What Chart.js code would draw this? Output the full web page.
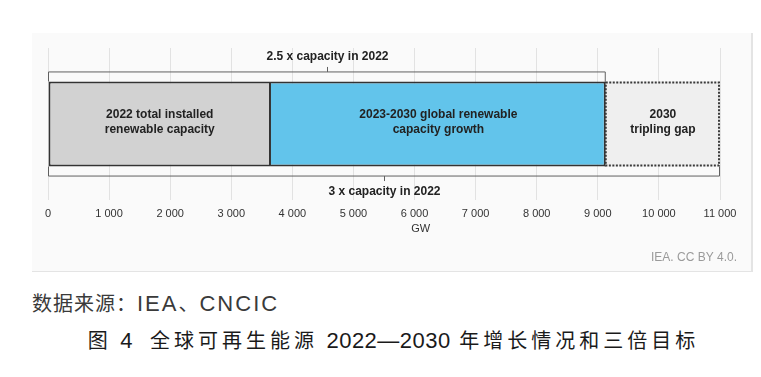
<!DOCTYPE html>
<html>
<head>
<meta charset="utf-8">
<script src="https://cdn.jsdelivr.net/npm/chart.js@4.4.0/dist/chart.umd.min.js"></script>
<style>
  body { margin: 0; background: #ffffff; width: 761px; height: 377px; position: relative; overflow: hidden; }
  #panel { position: absolute; left: 32px; top: 33px; width: 719px; height: 238px; background: #fafafa;
           border-right: 2px solid #e4e4e4; border-bottom: 1px solid #e4e4e4; }
  #panel canvas { position: absolute; left: 0; top: 0; }
  .cap { position: absolute; font-family: "Noto Sans CJK SC", sans-serif; white-space: nowrap; }
  .cap .lat { font-family: "Liberation Sans", Arial, sans-serif; font-size: 22px; letter-spacing: 0; }
  #source { left: 32px; top: 288px; font-size: 20px; color: #3a3a3a; letter-spacing: 1px; }
  #source .lat { letter-spacing: 2px; }
  #title { left: 0; width: 787px; text-align: center; top: 325px; font-size: 20px; color: #1a1a1a; letter-spacing: 4px; }
  #title .lat { letter-spacing: 0.5px; }
</style>
</head>
<body>
<div id="panel"><canvas id="capChart" width="719" height="238"></canvas></div>
<div class="cap" id="source">数据来源：<span class="lat">IEA</span>、<span class="lat">CNCIC</span></div>
<div class="cap" id="title">图 <span class="lat">4</span>&nbsp; 全球可再生能源 <span class="lat">2022—2030</span> 年增长情况和三倍目标</div>

<script>
// Data (GW)
const categories = ['Global renewable capacity'];
const segmentNames = ['2022 installed', '2023-2030 growth', '2030 tripling gap'];
const segmentLabels = [
  ['2022 total installed', 'renewable capacity'],
  ['2023-2030 global renewable', 'capacity growth'],
  ['2030', 'tripling gap']
];
const capacityGW = [3650, 5480, 1870];
const segmentColors = ['#d2d2d2', '#62c4eb', '#efefef'];
const axisMin = 0;
const axisMax = 11000;
const axisStep = 1000;
const bracketLabels = ['2.5 x capacity in 2022', '3 x capacity in 2022'];
const axisTitle = 'GW';
const creditText = 'IEA. CC BY 4.0.';

const fmt = v => String(v).replace(/\B(?=(\d{3})+(?!\d))/g, ' ');
const boldFont = 'bold 12px "Liberation Sans", Arial, sans-serif';

// labels, brackets and the dotted gap outline
const annotations = {
  id: 'annotations',
  afterDatasetsDraw(chart) {
    const ctx = chart.ctx;
    const x = chart.scales.x;
    const bars = chart.data.datasets.map((d, i) => chart.getDatasetMeta(i).data[0]);
    const top = bars[0].y - bars[0].height / 2;
    const bottom = bars[0].y + bars[0].height / 2;

    // dotted border of the gap
    const gap = bars[2];
    ctx.save();
    ctx.strokeStyle = '#3a3a3a';
    ctx.lineWidth = 2;
    ctx.setLineDash([2, 1.5]);
    ctx.strokeRect(gap.base, top + 1, gap.x - gap.base - 1, bottom - top - 2);
    ctx.restore();

    // text inside segments
    ctx.save();
    ctx.fillStyle = '#222';
    ctx.font = boldFont;
    ctx.textAlign = 'center';
    ctx.textBaseline = 'middle';
    bars.forEach((b, i) => {
      const cx = (b.base + b.x) / 2;
      ctx.fillText(segmentLabels[i][0], cx, b.y - 9);
      ctx.fillText(segmentLabels[i][1], cx, b.y + 6);
    });
    ctx.restore();

    // brackets
    const x0 = x.getPixelForValue(axisMin);
    const xTop = x.getPixelForValue(capacityGW[0] + capacityGW[1]);
    const xBot = x.getPixelForValue(capacityGW.reduce((a, b) => a + b, 0));
    ctx.save();
    ctx.strokeStyle = '#606060';
    ctx.lineWidth = 1;
    const yT = top - 9.5;
    ctx.beginPath();
    ctx.moveTo(x0 + 0.5, top);
    ctx.lineTo(x0 + 0.5, yT);
    ctx.lineTo(xTop - 0.5, yT);
    ctx.lineTo(xTop - 0.5, top);
    const mT = Math.round((x0 + xTop) / 2) + 0.5;
    ctx.moveTo(mT, yT);
    ctx.lineTo(mT, yT - 5);
    ctx.stroke();

    const yB = bottom + 9.5;
    ctx.beginPath();
    ctx.moveTo(x0 + 0.5, bottom);
    ctx.lineTo(x0 + 0.5, yB);
    ctx.lineTo(xBot - 0.5, yB);
    ctx.lineTo(xBot - 0.5, bottom);
    const mB = Math.round((x0 + xBot) / 2) + 0.5;
    ctx.moveTo(mB, yB);
    ctx.lineTo(mB, yB + 5);
    ctx.stroke();

    ctx.fillStyle = '#222';
    ctx.font = boldFont;
    ctx.textAlign = 'center';
    ctx.textBaseline = 'middle';
    ctx.fillText(bracketLabels[0], mT, yT - 15);
    ctx.fillText(bracketLabels[1], mB, yB + 16);
    ctx.restore();
  },
  afterDraw(chart) {
    const ctx = chart.ctx;
    const x = chart.scales.x;
    ctx.save();
    ctx.font = '11px "Liberation Sans", Arial, sans-serif';
    ctx.textAlign = 'center';
    ctx.textBaseline = 'middle';
    ctx.fillStyle = '#333';
    ctx.fillText(axisTitle, x.getPixelForValue(6100), chart.chartArea.bottom + 29);
    ctx.fillStyle = '#9a9a9a';
    ctx.textAlign = 'right';
    ctx.font = '12px "Liberation Sans", Arial, sans-serif';
    ctx.fillText(creditText, chart.width - 14, chart.chartArea.bottom + 58);
    ctx.restore();
  }
};

new Chart(document.getElementById('capChart'), {
  type: 'bar',
  data: {
    labels: categories,
    datasets: capacityGW.map((v, i) => ({
      label: segmentNames[i],
      data: [v],
      backgroundColor: segmentColors[i],
      borderColor: '#333',
      borderWidth: i < 2 ? 2 : 0,
      // avoid a doubled line where grey and blue meet
      borderSkipped: i === 1 ? 'start' : false,
      barPercentage: 1,
      categoryPercentage: 0.56
    }))
  },
  options: {
    indexAxis: 'y',
    responsive: false,
    animation: false,
    layout: { padding: { left: 16, right: 31, top: 15, bottom: 0 } },
    plugins: { legend: { display: false }, tooltip: { enabled: false } },
    scales: {
      x: {
        stacked: true,
        min: axisMin,
        max: axisMax,
        afterFit(scale) { scale.height = 71; },
        grid: { color: '#e2e2e2', lineWidth: 1, drawTicks: false },
        border: { display: false },
        ticks: {
          stepSize: axisStep,
          padding: 7,
          maxRotation: 0,
          color: '#333',
          font: { family: '"Liberation Sans", Arial, sans-serif', size: 11 },
          callback: v => fmt(v)
        }
      },
      y: { stacked: true, display: false }
    }
  },
  plugins: [annotations]
});
</script>
</body>
</html>
